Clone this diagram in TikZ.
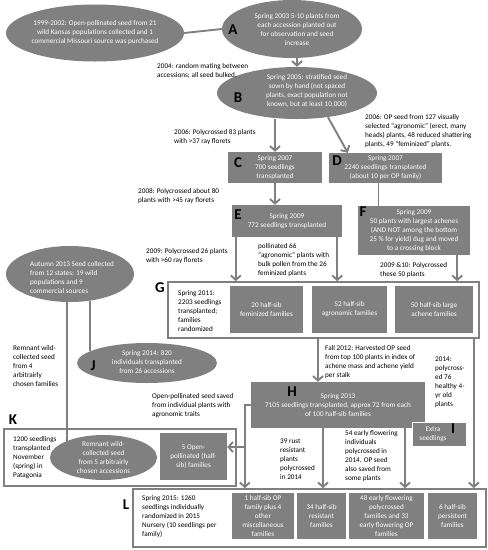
\documentclass[tikz,border=0pt]{standalone}
\usepackage{fontspec}
\setmainfont{Carlito}
\usetikzlibrary{positioning,shapes,calc,arrows.meta}
\definecolor{boxgray}{RGB}{128,128,128}

\begin{document}
\begin{tikzpicture}[x=1pt,y=-1pt,
    font=\fontsize{7.2}{9}\selectfont,
    gray ell/.style={ellipse,fill=boxgray,draw=none,inner sep=0pt},
    gray box/.style={rectangle,fill=boxgray,draw=none,inner sep=0pt,text=white,align=center},
    frame box/.style={rectangle,draw=boxgray,line width=1.6pt,fill=white,inner sep=0pt},
    white text/.style={text=white,align=center,inner sep=0pt},
    note/.style={anchor=west,align=left,inner sep=0pt,text=black},
    letter/.style={font=\fontsize{15}{15}\selectfont\bfseries,inner sep=0pt},
    link/.style={draw=boxgray,line width=1.9pt},
    arrow link/.style={link,-{Straight Barb[length=4.5pt,width=10pt]}}
  ]
  \useasboundingbox (0,0) rectangle (488,550);

  % frames
  \node[frame box,minimum width=311pt,minimum height=56pt] (G) at (323.5,310) {};
  \node[frame box,minimum width=353pt,minimum height=58pt] (L) at (309.5,518) {};
  \node[frame box,minimum width=232pt,minimum height=57pt] (K) at (120,457.5) {};

  % ellipses
  \node[gray ell,minimum width=178pt,minimum height=57pt] (src) at (95,33) {};
  \node[white text] at (src) {1999-2002: Open-pollinated seed from 21\\wild Kansas populations  collected and 1\\commercial Missouri source was purchased};
  \node[gray ell,minimum width=140pt,minimum height=58pt] (A) at (292,29) {};
  \node[white text] at (297,30) {Spring 2003 5-10 plants from\\each accession planted out\\for observation and seed\\increase};
  \node[gray ell,minimum width=160pt,minimum height=52pt] (B) at (297,93) {};
  \node[white text] at (307,91) {Spring 2005: stratified seed\\sown by hand (not spaced\\plants, exact population not\\known, but at least 10,000)};
  \node[gray ell,minimum width=128pt,minimum height=56pt] (autumn) at (70,274) {};
  \node[white text,align=left,anchor=west] at (30,278) {Autumn 2013 Seed collected\\from 12 states:  19  wild\\populations and 9\\commercial sources};
  \node[gray ell,minimum width=140pt,minimum height=40pt] (J) at (147,363) {};
  \node[white text] at (147,362) {Spring 2014: 820\\individuals transplanted\\from 26 accessions};

  % boxes
  \node[gray box,minimum width=94pt,minimum height=31pt] (C) at (275,167.5) {Spring 2007\\700 seedlings\\transplanted};
  \node[gray box,minimum width=113pt,minimum height=30pt] (D) at (385.5,168) {Spring 2007\\2240 seedlings transplanted\\(about 10 per OP family)};
  \node[gray box,minimum width=110pt,minimum height=32pt] (E) at (287,221) {Spring 2009\\772 seedlings transplanted};
  \node[gray box,minimum width=112pt,minimum height=49pt] (F) at (414,230.5) {Spring 2009\\50 plants with largest achenes\\(AND NOT among  the bottom\\25 \% for yield) dug and moved\\to a crossing block};
  \node[gray box,minimum width=73pt,minimum height=47pt] (g1) at (266.5,309.5) {20 half-sib\\feminized  families};
  \node[gray box,minimum width=75pt,minimum height=47pt] (g2) at (349.5,309.5) {52 half-sib\\agronomic families};
  \node[gray box,minimum width=78pt,minimum height=47pt] (g3) at (434,309.5) {50 half-sib large\\achene families};
  \node[gray box,minimum width=174pt,minimum height=46pt] (H) at (338,405) {Spring 2013\\7105 seedlings transplanted, approx 72 from each\\of 100 half-sib families};
  \node[gray box,draw=white,line width=0.6pt,minimum width=54pt,minimum height=24pt] (I) at (439,434) {};
  \node[white text] at (433,434) {Extra\\seedlings};
  \node[gray box,minimum width=67pt,minimum height=47pt] (k) at (193.5,456.5) {5 Open-\\pollinated (half-\\sib) families};
  \node[gray box,minimum width=62pt,minimum height=46pt] (l1) at (263,516) {1 half-sib OP\\family plus 4\\other\\miscellaneous\\families};
  \node[gray box,minimum width=49pt,minimum height=46pt] (l2) at (321.5,516) {34 half-sib\\resistant\\families};
  \node[gray box,minimum width=75pt,minimum height=46pt] (l3) at (386.5,516) {48 early flowering\\polycrossed\\families and 33\\early flowering OP\\families};
  \node[gray box,minimum width=49pt,minimum height=46pt] (l4) at (452.5,516) {6 half-sib\\persistent\\families};

  % frame texts
  \node[note] at (178,311) {Spring 2011:\\2203 seedlings\\transplanted;\\families\\randomized};
  \node[note] at (142,517) {Spring 2015: 1260\\seedlings individually\\randomized in 2015\\Nursery (10 seedlings per\\family)};
  \node[note] at (13,457.5) {1200 seedlings\\transplanted\\November\\(spring) in\\Patagonia};
  \node[gray ell,minimum width=107pt,minimum height=45pt] (rem) at (103.5,457.5) {};
  \node[white text] at (rem) {Remnant wild-\\collected  seed\\from 5 arbitrairly\\chosen accessions};

  % letters
  \node[letter] at (233,30) {A};
  \node[letter] at (238,98) {B};
  \node[letter] at (238,163) {C};
  \node[letter] at (337,161) {D};
  \node[letter] at (238,215) {E};
  \node[letter] at (363,212) {F};
  \node[letter] at (160,288) {G};
  \node[letter] at (292,392) {H};
  \node[letter] at (453,429) {I};
  \node[letter] at (93,366) {J};
  \node[letter] at (13,420) {K};
  \node[letter] at (126,505) {L};

  % notes
  \node[note] at (157,71) {2004: random mating between\\accessions; all seed bulked.};
  \node[note] at (174,137) {2006: Polycrossed 83 plants\\with >37  ray florets};
  \node[note] at (365,131.5) {2006: OP seed from 127 visually\\selected  ``agronomic'' (erect, many\\heads) plants, 48 reduced shattering\\plants, 49 ``feminized'' plants.};
  \node[note] at (138,196.5) {2008: Polycrossed about 80\\plants with >45 ray florets};
  \node[note] at (146,256) {2009: Polycrossed 26 plants\\with >60 ray florets};
  \node[note] at (258,260.5) {pollinated 66\\``agronomic'' plants with\\bulk pollen from the 26\\feminized plants};
  \node[note] at (380,270) {2009 \&10: Polycrossed\\these 50 plants};
  \node[note] at (325,362.5) {Fall 2012: Harvested OP seed\\from top 100 plants in index of\\achene mass and achene yield\\per stalk};
  \node[note] at (435,382) {2014:\\polycross-\\ed 76\\healthy 4-\\yr old\\plants};
  \node[note] at (13,366.5) {Remnant wild-\\collected  seed\\from 4\\arbitrairly\\chosen families};
  \node[note] at (152,405.5) {Open-pollinated seed saved\\from individual plants with\\agronomic traits};
  \node[note] at (280,459) {39 rust\\resistant\\plants\\polycrossed\\in 2014};
  \node[note] at (345,456) {54 early flowering\\individuals\\polycrossed in\\2014. OP seed\\also saved from\\some plants};

  % connectors
  \coordinate (e1) at ([xshift=4pt]E.south west);
  \coordinate (e2) at ([xshift=-5pt]E.south east);
  \coordinate (f1) at ([xshift=-13pt]F.south east);
  \coordinate (d1) at ([xshift=-7pt]D.south);
  \coordinate (h1) at ([xshift=-20pt]H.north);
  \coordinate (h2) at ([xshift=-15pt]H.south);
  \coordinate (h3) at ([xshift=67pt]H.south);
  \coordinate (g4) at ([xshift=-6pt]G.south east);
  \coordinate (op) at ($(H.west)+(-6,0)$);
  \coordinate (au1) at ([xshift=-3pt]autumn.south);

  \draw[link] (src.east) -- (A.west);
  \draw[arrow link] (A.south -| B.north) -- (B.north);
  \draw[arrow link] (B.south -| C.north) -- (C.north);
  \draw[arrow link] (B.322) -- ([xshift=19pt]D.north west);
  \draw[arrow link] (C.south) -- (C.south |- E.north);
  \draw[link] (d1) -- (d1 |- F.north);
  \draw[arrow link] (e1) -- (e1 |- G.north);
  \draw[arrow link] (e2) -- (e2 |- G.north);
  \draw[arrow link] (f1) -- (f1 |- G.north);
  \draw[arrow link] (h1 |- G.south) -- (h1);
  \draw[arrow link] (g4) -- (g4 |- L.north);
  \draw[arrow link] (H.west) -- (op) -- (op |- L.north);
  \draw[arrow link] (op |- 0,447) -- (k.east |- 0,447);
  \draw[arrow link] (h2) -- (h2 |- L.north);
  \draw[arrow link] (h3) -- (h3 |- L.north);
  \draw[link] (au1) -- (au1 |- rem.156);
  \draw[link] (autumn.307) -- (autumn.307 |- J.168);

\end{tikzpicture}
\end{document}
